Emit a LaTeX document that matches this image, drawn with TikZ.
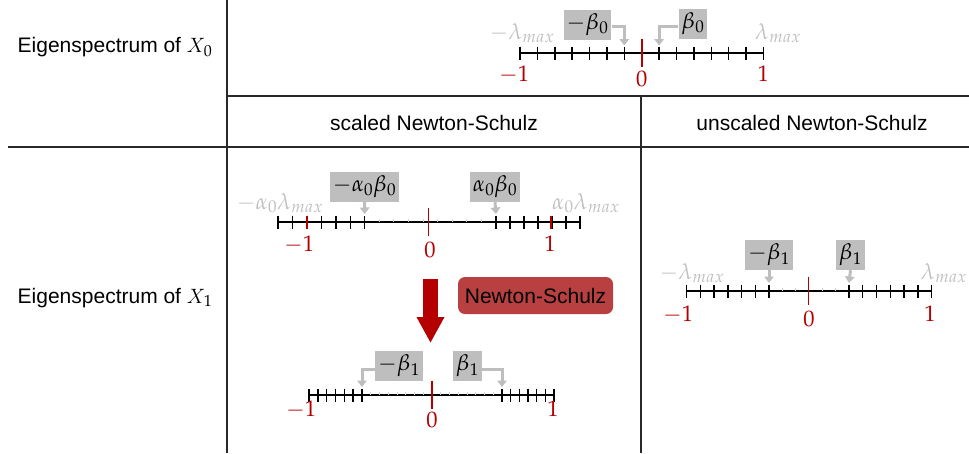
\documentclass[tikz,border=0pt]{standalone}
\usepackage{mathpazo}
\usepackage[no-math]{fontspec}
\setsansfont{Liberation Sans}
\usetikzlibrary{arrows.meta,calc}
\DeclareMathAlphabet{\mathcm}{OML}{lmm}{m}{it}
\definecolor{dred}{RGB}{180,0,0}
\definecolor{nsred}{RGB}{184,64,64}
\definecolor{lgray}{RGB}{190,190,190}
\definecolor{gtext}{RGB}{192,192,192}
\definecolor{gridc}{RGB}{40,40,40}
\definecolor{faintc}{RGB}{210,210,210}
\tikzset{
  lbl/.style={font=\fontsize{21}{25}\selectfont\sffamily, inner sep=0pt},
  mth/.style={font=\fontsize{22.5}{26}\selectfont, inner sep=0pt},
  num/.style={mth, text=dred, anchor=base},
  glab/.style={mth, text=gtext, anchor=base},
  gbox/.style={mth, fill=lgray, minimum height=30pt, inner xsep=3pt},
  garrow/.style={draw=lgray, line width=3pt, -{Triangle[width=9.5pt,length=6.5pt]}},
  axisline/.style={line width=1.3pt, black},
  tickmark/.style={line width=1.4pt, black},
  redtick/.style={line width=1.6pt, dred},
  fainttick/.style={line width=0.8pt, faintc},
  gridline/.style={line width=1.3pt, gridc},
  nsbox/.style={lbl, fill=nsred, rounded corners=7pt, minimum width=155pt, minimum height=37pt}
}
\begin{document}
\begin{tikzpicture}[x=1pt,y=-1pt]
\useasboundingbox (0,0) rectangle (969,453);
% grid
\draw[gridline] (227,0) -- (227,453);
\draw[gridline] (227,96) -- (969,96);
\draw[gridline] (8,147) -- (969,147);
\draw[gridline] (641,96) -- (641,453);
% row / column labels
\node[lbl, anchor=base] (e0) at (115,52.7) {Eigenspectrum of $\mathcm{X}_0$};
\node[lbl, anchor=base] (e1) at (115,303) {Eigenspectrum of $\mathcm{X}_1$};
\node[lbl, anchor=base] (hs) at (434,130) {scaled Newton-Schulz};
\node[lbl, anchor=base] (hu) at (812,130) {unscaled Newton-Schulz};

% ---------- top number line (X0) ----------
\draw[axisline] (520,53) -- (763.3,53);
\foreach \k in {-7,...,-1,1,2,...,7} \draw[tickmark] (641.7+17.38*\k,46.5) -- ++(0,13);
\draw[redtick] (641.7,38.5) -- (641.7,67);
\node[num] (tm1) at (514,81.7) {$-1$};
\node[num] (t0) at (641.7,86) {$0$};
\node[num] (tp1) at (763.3,81.7) {$1$};
\node[glab] (tlL) at (522,39) {$-\lambda_{max}$};
\node[glab] (tlR) at (778,39) {$\lambda_{max}$};
\coordinate (tL) at (624.3,45.5);
\coordinate (tR) at (659.1,45.5);
\node[gbox] (bm0) at (587.5,24.5) {$-\beta_0$};
\node[gbox] (bp0) at (693,23.5) {$\beta_0$};
\draw[garrow] ([yshift=-2pt]bm0.east) -| (tL);
\draw[garrow] ([yshift=-3pt]bp0.west) -| (tR);

% ---------- scaled number line ----------
\draw[axisline] (278,222) -- (580,222);
\foreach \k in {0,...,6} \draw[tickmark] (278+14.45*\k,215.5) -- ++(0,13);
\foreach \k in {0,...,6} \draw[tickmark] (496+14*\k,215.5) -- ++(0,13);
\foreach \k in {1,...,8} \draw[fainttick] (364.7+14.59*\k,218.5) -- ++(0,3);
\draw[redtick] (307,215.5) -- ++(0,13);
\draw[redtick] (551,215.5) -- ++(0,13);
\draw[redtick] (428.5,207.5) -- (428.5,236);
\node[num] (sm1) at (299,251.7) {$-1$};
\node[num] (s0) at (430,257) {$0$};
\node[num] (sp1) at (550,251.7) {$1$};
\node[glab] (slL) at (280,209) {$-\alpha_0\lambda_{max}$};
\node[glab] (slR) at (586,209) {$\alpha_0\lambda_{max}$};
\coordinate (sL) at (364.7,214);
\coordinate (sR) at (496,214);
\node[gbox] (bma) at (364.5,187) {$-\alpha_0\beta_0$};
\node[gbox] (bpa) at (495,187) {$\alpha_0\beta_0$};
\draw[garrow] (bma.south) -- (sL);
\draw[garrow] (bpa.south) -- (sR);

% ---------- Newton-Schulz step ----------
\coordinate (ra1) at (430.5,279);
\coordinate (ra2) at (430.5,343);
\draw[dred, line width=15pt, -{Triangle[width=26pt,length=26pt]}] (ra1) -- (ra2);
\node[nsbox] (ns) at (535.5,295.5) {Newton-Schulz};

% ---------- bottom number line ----------
\draw[axisline] (309,395) -- (554,395);
\foreach \k in {0,...,6} \draw[tickmark] (309+8.83*\k,388.5) -- ++(0,13);
\foreach \k in {0,...,6} \draw[tickmark] (502+8.67*\k,388.5) -- ++(0,13);
\foreach \k in {1,...,7,9,10,...,15} \draw[fainttick] (362+8.75*\k,391.5) -- ++(0,3);
\draw[redtick] (431.7,380.5) -- (431.7,409);
\node[num] (bm1l) at (301,416.7) {$-1$};
\node[num] (b0) at (432,427) {$0$};
\node[num] (bp1l) at (553,416.7) {$1$};
\coordinate (bL) at (362,387);
\coordinate (bR) at (502,387);
\node[gbox] (bm1) at (399,366) {$-\beta_1$};
\node[gbox] (bp1) at (467.5,366) {$\beta_1$};
\draw[garrow] ([yshift=-3pt]bm1.west) -| (bL);
\draw[garrow] ([yshift=-3pt]bp1.east) -| (bR);

% ---------- unscaled number line ----------
\draw[axisline] (686.7,291) -- (931.7,291);
\foreach \k in {0,...,6} \draw[tickmark] (686.7+13.72*\k,284.5) -- ++(0,13);
\foreach \k in {0,...,6} \draw[tickmark] (849+13.78*\k,284.5) -- ++(0,13);
\foreach \k in {1,2,4,5} \draw[fainttick] (769+13.33*\k,287.5) -- ++(0,3);
\draw[redtick] (808.5,276.5) -- (808.5,305);
\node[num] (um1) at (678,321.7) {$-1$};
\node[num] (u0) at (809,326) {$0$};
\node[num] (up1) at (930,321.7) {$1$};
\node[glab] (ulL) at (692,279) {$-\lambda_{max}$};
\node[glab] (ulR) at (944,279) {$\lambda_{max}$};
\coordinate (uL) at (769,283);
\coordinate (uR) at (849,283);
\node[gbox] (ubm) at (769,255) {$-\beta_1$};
\node[gbox] (ubp) at (850.5,255) {$\beta_1$};
\draw[garrow] (ubm.south) -- (uL);
\draw[garrow] (ubp.south) -- (uR);
\end{tikzpicture}
\end{document}
